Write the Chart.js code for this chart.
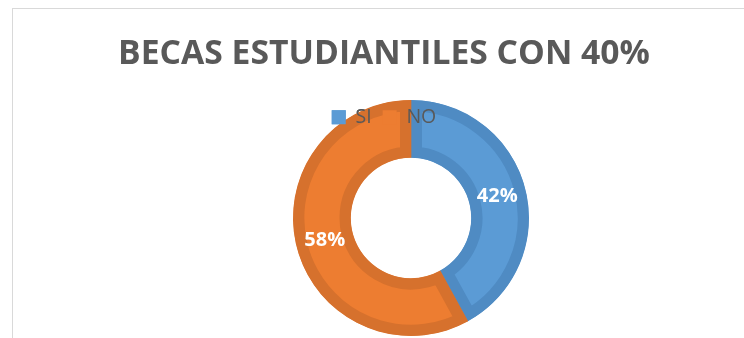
<!DOCTYPE html>
<html>
<head>
<meta charset="utf-8">
<script src="https://cdn.jsdelivr.net/npm/chart.js@4/dist/chart.umd.min.js"></script>
<style>
    html, body {
        margin: 0;
        padding: 0;
        background: #ffffff;
        width: 744px;
        height: 338px;
        overflow: hidden;
    }
    .frame {
        position: absolute;
        left: 12px;
        top: 8px;
        width: 780px;
        height: 400px;
        border-top: 1px solid #d9d9d9;
        border-left: 1px solid #d9d9d9;
        background: #ffffff;
    }
    #chart-becas {
        position: absolute;
        left: 0;
        top: 0;
    }
</style>
</head>
<body>
<div class="frame">
    <canvas id="chart-becas" width="742" height="370"></canvas>
</div>
<script>
const chartTitle = 'BECAS ESTUDIANTILES CON 40%';
const categories = ['SI', 'NO'];
const values = [42, 58];
const fillColors = ['#5b9bd5', '#ed7d31'];
const edgeColors = ['#4f8bc3', '#d6712d'];

// plot area sits a little right of the title
const shiftPlotArea = {
    id: 'shiftPlotArea',
    afterLayout(chart) {
        chart.chartArea.left += 27;
        chart.chartArea.right += 27;
    }
};

// legend goes on top of the ring, then the percentages
const overlay = {
    id: 'overlay',
    afterDatasetsDraw(chart) {
        if (chart.legend) chart.legend.draw();

        const ctx = chart.ctx;
        const meta = chart.getDatasetMeta(0);
        const total = values.reduce((a, b) => a + b, 0);
        ctx.save();
        ctx.fillStyle = '#ffffff';
        ctx.font = 'bold 20px "Open Sans"';
        ctx.textAlign = 'center';
        ctx.textBaseline = 'middle';
        meta.data.forEach((arc, i) => {
            const pos = arc.tooltipPosition();
            const pct = Math.round(values[i] / total * 100) + '%';
            ctx.fillText(pct, pos.x, pos.y);
        });
        ctx.restore();
    }
};

const ctx = document.getElementById('chart-becas');

new Chart(ctx, {
    type: 'doughnut',
    data: {
        labels: categories,
        datasets: [{
            data: values,
            backgroundColor: fillColors,
            borderColor: edgeColors,
            borderWidth: 11,
            borderAlign: 'inner',
            hoverOffset: 0
        }]
    },
    options: {
        responsive: false,
        animation: false,
        radius: 118,
        cutout: '51%',
        layout: {
            padding: { top: 0, bottom: 80, left: 0, right: 0 }
        },
        plugins: {
            title: {
                display: true,
                text: chartTitle,
                color: '#595959',
                font: { family: 'Open Sans', size: 33.7, weight: 'bold', lineHeight: 1.2 },
                padding: { top: 25, bottom: 22 }
            },
            legend: {
                position: 'top',
                align: 'center',
                labels: {
                    boxWidth: 14,
                    boxHeight: 14,
                    padding: 11,
                    color: '#595959',
                    font: { family: 'Open Sans', size: 19.5 },
                    generateLabels(chart) {
                        const items = Chart.overrides.doughnut.plugins.legend.labels.generateLabels(chart);
                        return items.map(item => Object.assign(item, { lineWidth: 0 }));
                    }
                }
            },
            tooltip: { enabled: false }
        }
    },
    plugins: [shiftPlotArea, overlay]
});
</script>
</body>
</html>
